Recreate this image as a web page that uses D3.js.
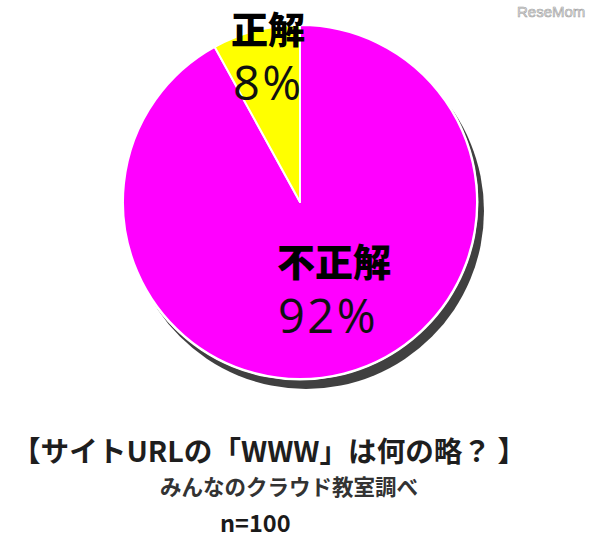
<!DOCTYPE html>
<html>
<head>
<meta charset="utf-8">
<script src="https://cdn.jsdelivr.net/npm/d3@7"></script>
<style>
html,body{margin:0;padding:0;background:#fff;}
svg{display:block;}
</style>
</head>
<body>
<svg id="chart" width="600" height="540"></svg>
<script>
const categories = ["不正解", "正解"];
const values = [92, 8];
const colors = ["#ff00ff", "#ffff00"];
const percentLabels = ["92%", "8%"];
const title = "【サイトURLの「WWW」は何の略？ 】";
const subtitle = "みんなのクラウド教室調べ";
const sampleNote = "n=100";
const watermark = "ReseMom";

const svg = d3.select("#chart");
const cx = 300, cy = 202, r = 177;
const g = svg.append("g").attr("transform", `translate(${cx},${cy})`);

const pie = d3.pie().sort(null).value(d => d.value);
const arcs = pie(categories.map((c, i) => ({cat: c, value: values[i], color: colors[i]})));
const arc = d3.arc().innerRadius(0).outerRadius(r);

// shadow
g.append("circle").attr("cx", 6).attr("cy", 9).attr("r", r + 1).attr("fill", "#404040");
g.append("circle").attr("r", r + 1.5).attr("fill", "#fff");

g.selectAll("path.slice").data(arcs).join("path")
  .attr("class", "slice")
  .attr("d", arc)
  .attr("fill", d => d.data.color)
  .attr("stroke", "#fff")
  .attr("stroke-width", 2)
  .attr("stroke-linejoin", "round");

const cjk = "'Noto Sans CJK JP', sans-serif";
const latin = "'Open Sans', 'Noto Sans', sans-serif";

// labels (positions relative to page)
const labelPos = [
  {name: [277, 276], size: 38, pct: [278, 333]},
  {name: [231, 44], size: 37, pct: [233, 100]}
];
arcs.forEach((a, i) => {
  svg.append("text").attr("x", labelPos[i].name[0]).attr("y", labelPos[i].name[1])
    .attr("font-family", cjk).attr("font-weight", 900).attr("font-size", labelPos[i].size)
    .attr("fill", "#000").text(a.data.cat);
  svg.append("text").attr("x", labelPos[i].pct[0]).attr("y", labelPos[i].pct[1])
    .attr("font-family", latin).attr("font-size", 47).attr("letter-spacing", 2.5)
    .attr("fill", "#111").text(percentLabels[i]);
});

svg.append("text").attr("x", 12).attr("y", 462)
  .attr("font-family", cjk).attr("font-weight", 700).attr("font-size", 28.6)
  .attr("fill", "#1e1e1e").text(title);
svg.append("text").attr("x", 160).attr("y", 495)
  .attr("font-family", cjk).attr("font-weight", 700).attr("font-size", 21.5)
  .attr("fill", "#333").text(subtitle);
svg.append("text").attr("x", 220).attr("y", 532)
  .attr("font-family", cjk).attr("font-weight", 700).attr("font-size", 23.5)
  .attr("fill", "#1a1a1a").text(sampleNote);

svg.append("text").attr("x", 517).attr("y", 17)
  .attr("font-family", "'Liberation Sans', sans-serif").attr("font-size", 15)
  .attr("fill", "#e8e8e8").attr("stroke", "#a0a0a0").attr("stroke-width", 0.6)
  .text(watermark);
</script>
</body>
</html>
